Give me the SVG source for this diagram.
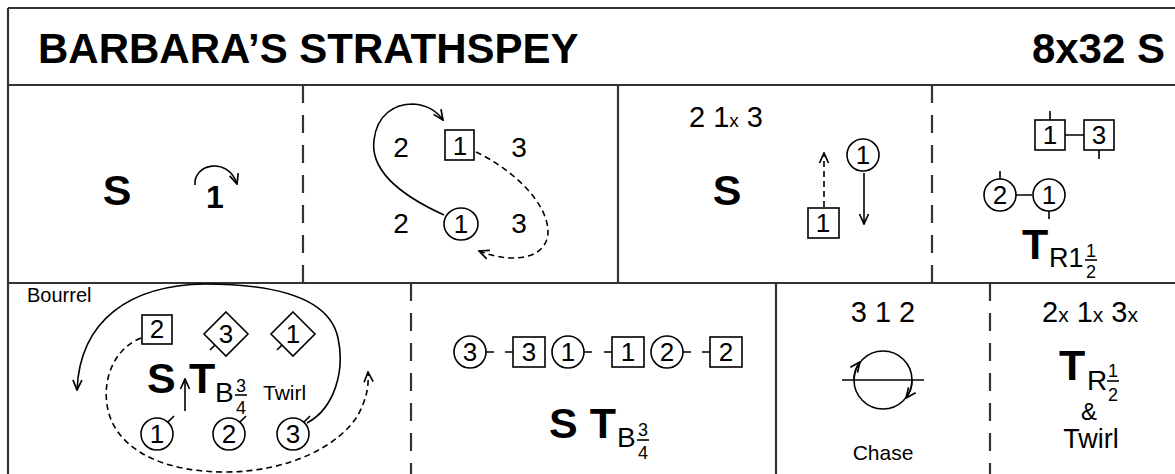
<svg xmlns="http://www.w3.org/2000/svg" width="1175" height="474" viewBox="0 0 1175 474">
<style>
text{font-family:"Liberation Sans",Arial,Helvetica,sans-serif;fill:#000}
.b{font-weight:bold}
.m{text-anchor:middle}
.ln{stroke:#000;stroke-width:1.6;fill:none}
.sh{stroke:#000;stroke-width:1.6;fill:#fff}
.fr{stroke:#333;stroke-width:2.2;fill:none}
.dl{stroke:#333;stroke-width:2.2;stroke-dasharray:18 12;fill:none}
.ds{stroke-dasharray:6 4}
.n{font-size:26px}
.d{font-size:28px}
.f{font-size:18px}
.big{font-size:43px;font-weight:bold}
</style>
<defs>
<marker id="ah" viewBox="0 0 12 12" refX="11" refY="6" markerWidth="12" markerHeight="12" markerUnits="userSpaceOnUse" orient="auto">
<path d="M1,1.5 L11,6 L1,10.5" fill="none" stroke="#000" stroke-width="1.7"/>
</marker>
</defs>
<g id="frame">
<path class="fr" d="M8,8 H1175 M8,8 V474 M8,85 H1175 M8,283 H1175 M618,85 V283 M776,283 V474"/>
<path class="dl" d="M303,85 V283 M932,85 V283 M411,283 V474 M990,283 V474"/>
</g>
<g id="title">
<text x="38" y="63" font-size="42" class="b">BARBARA’S STRATHSPEY</text>
<text x="1165" y="63" font-size="42" class="b" text-anchor="end">8x32 S</text>
</g>
<g id="connectors">
<path class="ln" marker-end="url(#ah)" d="M195,185 C193,164 228,156 237,184"/>
<path class="ln" marker-end="url(#ah)" d="M444,215 C400,195 370,170 374,140 C377,114 395,104 413,104 C427,105 436,110 443,120"/>
<path class="ln ds" marker-end="url(#ah)" d="M476,152 C510,168 546,200 548,230 C549,258 515,265 479,251"/>
<path class="ln ds" marker-end="url(#ah)" d="M824,207 V153"/>
<path class="ln" marker-end="url(#ah)" d="M864,173 V224"/>
<path class="ln" d="M1065,135 H1084 M1016,195 H1032 M1050,111 V120 M1099,150 V159 M1000,171 V179 M1049,211 V219"/>
<path class="ln" marker-end="url(#ah)" d="M307,423 C335,408 345,370 338,338 C330,300 280,284 205,284 C130,285 80,320 77,390"/>
<path class="ln ds" marker-end="url(#ah)" d="M141,338 C110,350 98,390 112,422 C128,455 170,472 225,472 C290,472 340,445 358,415 C366,400 369,388 368,372"/>
<path class="ln" marker-end="url(#ah)" d="M185,411 V379"/>
<path class="ln" d="M215,345 L210,350 M282,345 L277,350 M168,422 L174,416 M240,422 L246,416 M304,422 L310,416"/>
<path class="ln" d="M486,352 H494 M505,352 H513 M584,352 H592 M604,352 H612 M683,352 H691 M702,352 H710"/>
<path class="ln" marker-end="url(#ah)" d="M854,380 A29,29 0 0 1 860,362"/>
<path class="ln" marker-end="url(#ah)" d="M912,380 A29,29 0 0 1 906,398"/>
</g>
<g id="r1c1">
<text x="117" y="205" class="big m">S</text>
<text x="215" y="208" font-size="32" class="b m">1</text>
</g>
<g id="r1c2">
<text x="401" y="157" class="d m">2</text>
<rect class="sh" x="445" y="130" width="29" height="30"/>
<text x="460" y="155" class="n m">1</text>
<text x="519" y="157" class="d m">3</text>
<text x="401" y="233" class="d m">2</text>
<ellipse class="sh" cx="461" cy="224" rx="17" ry="16"/>
<text x="461" y="233" class="n m">1</text>
<text x="519" y="233" class="d m">3</text>
</g>
<g id="r1c3">
<text x="726" y="127" font-size="29" class="m">2 1<tspan font-size="19">x</tspan> 3</text>
<text x="727" y="205" class="big m">S</text>
<rect class="sh" x="808" y="208" width="31" height="30"/>
<text x="823" y="232" class="n m">1</text>
<circle class="sh" cx="863" cy="155" r="16"/>
<text x="863" y="164" class="n m">1</text>
</g>
<g id="r1c4">
<rect class="sh" x="1035" y="120" width="30" height="30"/>
<text x="1050" y="144" class="n m">1</text>
<rect class="sh" x="1084" y="120" width="30" height="30"/>
<text x="1099" y="144" class="n m">3</text>
<circle class="sh" cx="1000" cy="195" r="16"/>
<text x="1000" y="204" class="n m">2</text>
<circle class="sh" cx="1049" cy="195" r="16"/>
<text x="1049" y="204" class="n m">1</text>
<text x="1022" y="259" class="big">T</text>
<text x="1049" y="267" font-size="27">R1</text>
<text x="1091" y="257" class="f m">1</text>
<path class="ln" d="M1085,260 H1097"/>
<text x="1091" y="278" class="f m">2</text>
</g>
<g id="r2c1">
<text x="27" y="302" font-size="20">Bourrel</text>
<rect class="sh" x="142" y="315" width="30" height="29"/>
<text x="157" y="338" class="n m">2</text>
<polygon class="sh" points="226,312 248,334 226,356 204,334"/>
<text x="226" y="343" class="n m">3</text>
<polygon class="sh" points="293,312 315,334 293,356 271,334"/>
<text x="293" y="343" class="n m">1</text>
<text x="147" y="393" class="big">S</text>
<text x="189" y="393" class="big">T</text>
<text x="215" y="402" font-size="28">B</text>
<text x="241" y="392" class="f m">3</text>
<path class="ln" d="M235,395 H247"/>
<text x="241" y="414" class="f m">4</text>
<text x="263" y="400" font-size="21">Twirl</text>
<circle class="sh" cx="157" cy="434" r="16"/>
<text x="157" y="443" class="n m">1</text>
<circle class="sh" cx="229" cy="434" r="16"/>
<text x="229" y="443" class="n m">2</text>
<circle class="sh" cx="293" cy="434" r="16"/>
<text x="293" y="443" class="n m">3</text>
</g>
<g id="r2c2">
<circle class="sh" cx="470" cy="352" r="16"/>
<text x="470" y="361" class="n m">3</text>
<rect class="sh" x="513" y="337" width="32" height="30"/>
<text x="529" y="361" class="n m">3</text>
<circle class="sh" cx="568" cy="352" r="16"/>
<text x="568" y="361" class="n m">1</text>
<rect class="sh" x="612" y="337" width="32" height="30"/>
<text x="628" y="361" class="n m">1</text>
<circle class="sh" cx="667" cy="352" r="16"/>
<text x="667" y="361" class="n m">2</text>
<rect class="sh" x="710" y="337" width="32" height="30"/>
<text x="726" y="361" class="n m">2</text>
<text x="549" y="438" class="big">S T</text>
<text x="617" y="447" font-size="28">B</text>
<text x="643" y="436" class="f m">3</text>
<path class="ln" d="M637,440 H649"/>
<text x="643" y="459" class="f m">4</text>
</g>
<g id="r2c3">
<text x="883" y="322" font-size="29" class="m">3 1 2</text>
<circle class="ln" cx="883" cy="380" r="29"/>
<path class="ln" d="M842,380 H924"/>
<text x="883" y="460" font-size="21" class="m">Chase</text>
</g>
<g id="r2c4">
<text x="1090" y="322" font-size="29" class="m">2<tspan font-size="21">x</tspan> 1<tspan font-size="21">x</tspan> 3<tspan font-size="21">x</tspan></text>
<text x="1059" y="380" class="big">T</text>
<text x="1087" y="390" font-size="28">R</text>
<text x="1113" y="377" class="f m">1</text>
<path class="ln" d="M1107,381 H1119"/>
<text x="1113" y="401" class="f m">2</text>
<text x="1089" y="420" font-size="24" class="m">&amp;</text>
<text x="1091" y="448" font-size="27" class="m">Twirl</text>
</g>
</svg>
